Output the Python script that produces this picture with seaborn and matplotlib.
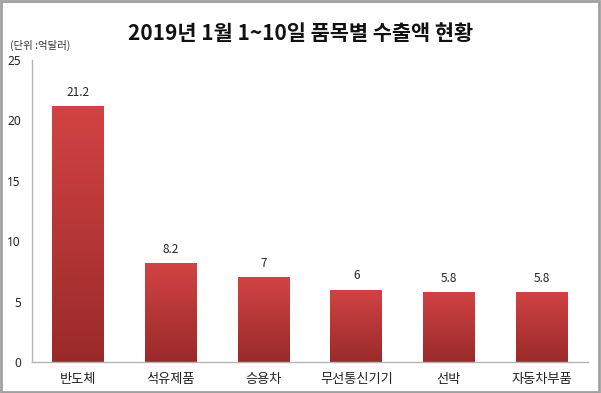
import numpy as np
import pandas as pd
import matplotlib
matplotlib.use("Agg")
import matplotlib.pyplot as plt
import seaborn as sns
from matplotlib.colors import LinearSegmentedColormap
from matplotlib.patches import Rectangle

categories = ["반도체", "석유제품", "승용차", "무선통신기기", "선박", "자동차부품"]
values = [21.2, 8.2, 7, 6, 5.8, 5.8]
value_labels = ["21.2", "8.2", "7", "6", "5.8", "5.8"]
y_ticks = [0, 5, 10, 15, 20, 25]

sns.set_style("white")
plt.rcParams["font.family"] = ["Noto Sans CJK KR", "DejaVu Sans"]

df = pd.DataFrame({"item": categories, "value": values})

fig = plt.figure(figsize=(6.01, 3.93), dpi=100)
ax = fig.add_axes([0.0532, 0.079, 0.925, 0.768])

sns.barplot(data=df, x="item", y="value", ax=ax, color="#c03838",
            width=0.56, saturation=1)

# vertical gradient inside each bar, light red on top -> dark red at bottom
cmap = LinearSegmentedColormap.from_list("bar", ["#9a2a2a", "#d24343"])
grad = np.linspace(0, 1, 256).reshape(-1, 1)
for p in ax.patches:
    x0, y0 = p.get_x(), p.get_y()
    w, h = p.get_width(), p.get_height()
    p.set_facecolor("none")
    p.set_edgecolor("none")
    im = ax.imshow(grad, cmap=cmap, origin="lower", aspect="auto",
                   extent=[x0, x0 + w, y0, y0 + h], zorder=2)
    im.set_clip_path(p)

for i, (v, lab) in enumerate(zip(values, value_labels)):
    ax.text(i, v + 0.6, lab, ha="center", va="bottom", fontsize=8.5, color="#222222")

ax.set_xlim(-0.5, len(categories) - 0.5)
ax.set_ylim(0, 25)
ax.set_yticks(y_ticks)
ax.set_xlabel("")
ax.set_ylabel("")
ax.tick_params(axis="y", length=0, pad=8, labelsize=8.5, labelcolor="#222222")
ax.tick_params(axis="x", length=0, pad=8, labelsize=9.5, labelcolor="#222222")
for lab in ax.get_yticklabels():
    lab.set_fontfamily(["Noto Sans", "DejaVu Sans"])

for side in ["top", "right"]:
    ax.spines[side].set_visible(False)
for side in ["left", "bottom"]:
    ax.spines[side].set_color("#b4b4b4")
    ax.spines[side].set_linewidth(1.0)

fig.text(0.5, 0.915, "2019년 1월 1~10일 품목별 수출액 현황", ha="center", va="center",
         fontsize=15, fontweight="bold", color="#111111")
fig.text(0.017, 0.885, "(단위 :억달러)", ha="left", va="center",
         fontsize=7.5, color="#333333")

# outer frame
fig.patches.append(Rectangle((0.002, 0.003), 0.994, 0.994, transform=fig.transFigure,
                             fill=False, edgecolor="#a0a0a0", linewidth=2.0))

fig.savefig("out.png", dpi=100)
